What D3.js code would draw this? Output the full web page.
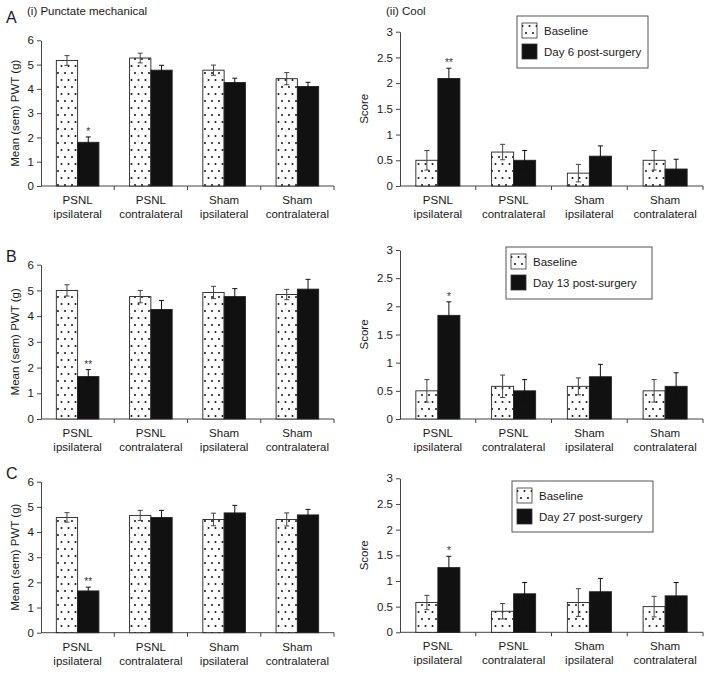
<!DOCTYPE html>
<html>
<head>
<meta charset="utf-8">
<script src="https://cdn.jsdelivr.net/npm/d3@7"></script>
<style>
  body { margin: 0; background: #fff; }
  svg { font-family: "Liberation Sans", Arial, sans-serif; }
</style>
</head>
<body>
<svg id="chart" width="709" height="675"></svg>
<script>
// categories (two-line labels)
const categories = ["PSNL ipsilateral", "PSNL contralateral", "Sham ipsilateral", "Sham contralateral"];
const seriesNames = ["Baseline", "Post"];

// (i) punctate mechanical, mean PWT (g)
const mechA_base = [5.17, 5.27, 4.77, 4.42];
const mechA_baseErr = [0.2, 0.2, 0.21, 0.25];
const mechA_post = [1.8, 4.77, 4.26, 4.1];
const mechA_postErr = [0.22, 0.2, 0.18, 0.17];

const mechB_base = [5.0, 4.76, 4.92, 4.84];
const mechB_baseErr = [0.22, 0.24, 0.24, 0.2];
const mechB_post = [1.65, 4.26, 4.76, 5.05];
const mechB_postErr = [0.27, 0.35, 0.31, 0.38];

const mechC_base = [4.58, 4.66, 4.5, 4.5];
const mechC_baseErr = [0.19, 0.2, 0.25, 0.26];
const mechC_post = [1.66, 4.58, 4.76, 4.68];
const mechC_postErr = [0.15, 0.28, 0.3, 0.22];

// (ii) cool, score
const coolA_base = [0.5, 0.66, 0.25, 0.5];
const coolA_baseErr = [0.19, 0.15, 0.17, 0.19];
const coolA_post = [2.09, 0.5, 0.58, 0.33];
const coolA_postErr = [0.2, 0.19, 0.2, 0.19];

const coolB_base = [0.5, 0.58, 0.58, 0.5];
const coolB_baseErr = [0.2, 0.2, 0.15, 0.2];
const coolB_post = [1.84, 0.5, 0.75, 0.58];
const coolB_postErr = [0.24, 0.2, 0.22, 0.24];

const coolC_base = [0.58, 0.41, 0.58, 0.5];
const coolC_baseErr = [0.14, 0.15, 0.27, 0.2];
const coolC_post = [1.26, 0.75, 0.79, 0.71];
const coolC_postErr = [0.22, 0.22, 0.26, 0.26];

// significance markers on the post-surgery bars
const mechA_stars = ["*", "", "", ""];
const coolA_stars = ["**", "", "", ""];
const mechB_stars = ["**", "", "", ""];
const coolB_stars = ["*", "", "", ""];
const mechC_stars = ["**", "", "", ""];
const coolC_stars = ["*", "", "", ""];

const mechTicks = [0, 1, 2, 3, 4, 5, 6];
const coolTicks = [0, 0.5, 1, 1.5, 2, 2.5, 3];
const postDays = ["Day 6 post-surgery", "Day 13 post-surgery", "Day 27 post-surgery"];

const svg = d3.select("#chart");
const textCol = "#1a1a1a";

// dotted fill for baseline bars
const defs = svg.append("defs");
const pat = defs.append("pattern")
  .attr("id", "dots")
  .attr("patternUnits", "userSpaceOnUse")
  .attr("width", 7).attr("height", 14);
pat.append("rect").attr("width", 7).attr("height", 14).attr("fill", "#fff");
pat.append("circle").attr("cx", 2).attr("cy", 3).attr("r", 1).attr("fill", "#111");
pat.append("circle").attr("cx", 5.5).attr("cy", 10).attr("r", 1).attr("fill", "#111");

const panels = [
  { letter: "A", title: "(i) Punctate mechanical", kind: "mech", base: mechA_base, baseErr: mechA_baseErr, post: mechA_post, postErr: mechA_postErr, stars: mechA_stars,
    x: [41, 334], y: [186, 40.3], letterY: 23 },
  { title: "(ii) Cool", kind: "cool", base: coolA_base, baseErr: coolA_baseErr, post: coolA_post, postErr: coolA_postErr, stars: coolA_stars,
    x: [400, 703], y: [186, 31.7], legend: { x: 517, y: 16, w: 131, h: 52, label: postDays[0] } },
  { letter: "B", kind: "mech", base: mechB_base, baseErr: mechB_baseErr, post: mechB_post, postErr: mechB_postErr, stars: mechB_stars,
    x: [41, 334], y: [419, 264.7], letterY: 262 },
  { kind: "cool", base: coolB_base, baseErr: coolB_baseErr, post: coolB_post, postErr: coolB_postErr, stars: coolB_stars,
    x: [400, 703], y: [419, 250], legend: { x: 506, y: 247, w: 146, h: 52, label: postDays[1] } },
  { letter: "C", kind: "mech", base: mechC_base, baseErr: mechC_baseErr, post: mechC_post, postErr: mechC_postErr, stars: mechC_stars,
    x: [41, 334], y: [632.7, 481.7], letterY: 479 },
  { kind: "cool", base: coolC_base, baseErr: coolC_baseErr, post: coolC_post, postErr: coolC_postErr, stars: coolC_stars,
    x: [400, 703], y: [632.3, 478.3], legend: { x: 512, y: 481, w: 141, h: 51, label: postDays[2] } }
];

panels.forEach(p => {
  const g = svg.append("g");
  const ticks = p.kind === "mech" ? mechTicks : coolTicks;

  const x = d3.scaleBand().domain(categories).range(p.x).padding(0);
  const xs = d3.scaleBand().domain(seriesNames).range([0, x.bandwidth()])
    .paddingInner(0).paddingOuter(0.72);
  const y = d3.scaleLinear().domain([0, d3.max(ticks)]).range(p.y);

  // y axis
  g.append("g")
    .attr("transform", `translate(${p.x[0]},0)`)
    .call(d3.axisLeft(y).tickValues(ticks).tickFormat(d3.format("")).tickSize(4).tickSizeOuter(0).tickPadding(3))
    .call(a => a.selectAll("text").attr("font-size", 11.5).attr("fill", textCol).attr("font-family", null))
    .call(a => a.selectAll("line,path").attr("stroke", "#444"));

  // x axis line with dividers between categories
  const y0 = y(0);
  g.append("line").attr("x1", p.x[0]).attr("x2", p.x[1]).attr("y1", y0).attr("y2", y0).attr("stroke", "#444");
  g.selectAll(".div").data(categories.slice(1).concat(["end"]))
    .join("line")
    .attr("x1", d => d === "end" ? p.x[1] : x(d))
    .attr("x2", d => d === "end" ? p.x[1] : x(d))
    .attr("y1", y0).attr("y2", y0 + 4).attr("stroke", "#444");

  // category labels
  const lab = g.selectAll(".cat").data(categories).join("text")
    .attr("text-anchor", "middle").attr("font-size", 11.5).attr("fill", textCol)
    .attr("x", d => x(d) + x.bandwidth() / 2).attr("y", y0 + 18);
  lab.append("tspan").text(d => d.split(" ")[0]);
  lab.append("tspan").attr("x", d => x(d) + x.bandwidth() / 2).attr("dy", 14).text(d => d.split(" ")[1]);

  const rows = categories.map((c, i) => [
    { cat: c, s: "Baseline", v: p.base[i], e: p.baseErr[i], star: "" },
    { cat: c, s: "Post", v: p.post[i], e: p.postErr[i], star: p.stars[i] }
  ]).flat();

  // bars
  g.selectAll(".bar").data(rows).join("rect")
    .attr("x", d => x(d.cat) + xs(d.s))
    .attr("width", xs.bandwidth())
    .attr("y", d => y(d.v))
    .attr("height", d => y0 - y(d.v))
    .attr("fill", d => d.s === "Baseline" ? "url(#dots)" : "#111")
    .attr("stroke", "#222").attr("stroke-width", 0.9);

  // error bars
  const cx = d => x(d.cat) + xs(d.s) + xs.bandwidth() / 2;
  const eb = g.selectAll(".err").data(rows).join("g")
    .attr("stroke", d => d.s === "Baseline" ? "#444" : "#111").attr("stroke-width", 1);
  eb.append("line").attr("x1", cx).attr("x2", cx).attr("y1", d => y(d.v - d.e)).attr("y2", d => y(d.v + d.e));
  eb.append("line").attr("x1", d => cx(d) - 2.5).attr("x2", d => cx(d) + 2.5).attr("y1", d => y(d.v + d.e)).attr("y2", d => y(d.v + d.e));
  eb.append("line").attr("x1", d => cx(d) - 2.5).attr("x2", d => cx(d) + 2.5).attr("y1", d => y(d.v - d.e)).attr("y2", d => y(d.v - d.e));

  // stars
  g.selectAll(".star").data(rows.filter(d => d.star)).join("text")
    .attr("x", cx).attr("y", d => y(d.v + d.e) - 2)
    .attr("text-anchor", "middle").attr("font-size", 10).attr("fill", "#333")
    .text(d => d.star);

  // axis title
  const midY = (p.y[0] + p.y[1]) / 2;
  const ax = p.kind === "mech" ? 15 : 364;
  g.append("text")
    .attr("transform", `translate(${ax + 4},${midY}) rotate(-90)`)
    .attr("text-anchor", "middle").attr("font-size", 11.5).attr("fill", textCol)
    .text(p.kind === "mech" ? "Mean (sem) PWT (g)" : "Score");

  if (p.letter) {
    g.append("text").attr("x", 6).attr("y", p.letterY).attr("font-size", 16).attr("fill", textCol).text(p.letter);
  }
  if (p.title) {
    g.append("text").attr("x", p.kind === "mech" ? 27 : 386).attr("y", 15)
      .attr("font-size", 11.5).attr("fill", textCol).text(p.title);
  }

  if (p.legend) {
    const L = p.legend;
    const lg = g.append("g").attr("transform", `translate(${L.x},${L.y})`);
    lg.append("rect").attr("width", L.w).attr("height", L.h).attr("fill", "#fff").attr("stroke", "#555");
    const items = [["url(#dots)", "Baseline"], ["#111", L.label]];
    items.forEach((it, i) => {
      lg.append("rect").attr("x", 5).attr("y", 7 + i * 21).attr("width", 15).attr("height", 15)
        .attr("fill", it[0]).attr("stroke", "#333").attr("stroke-width", 0.8);
      lg.append("text").attr("x", 27).attr("y", 19 + i * 21).attr("font-size", 11.5).attr("fill", textCol).text(it[1]);
    });
  }
});
</script>
</body>
</html>
